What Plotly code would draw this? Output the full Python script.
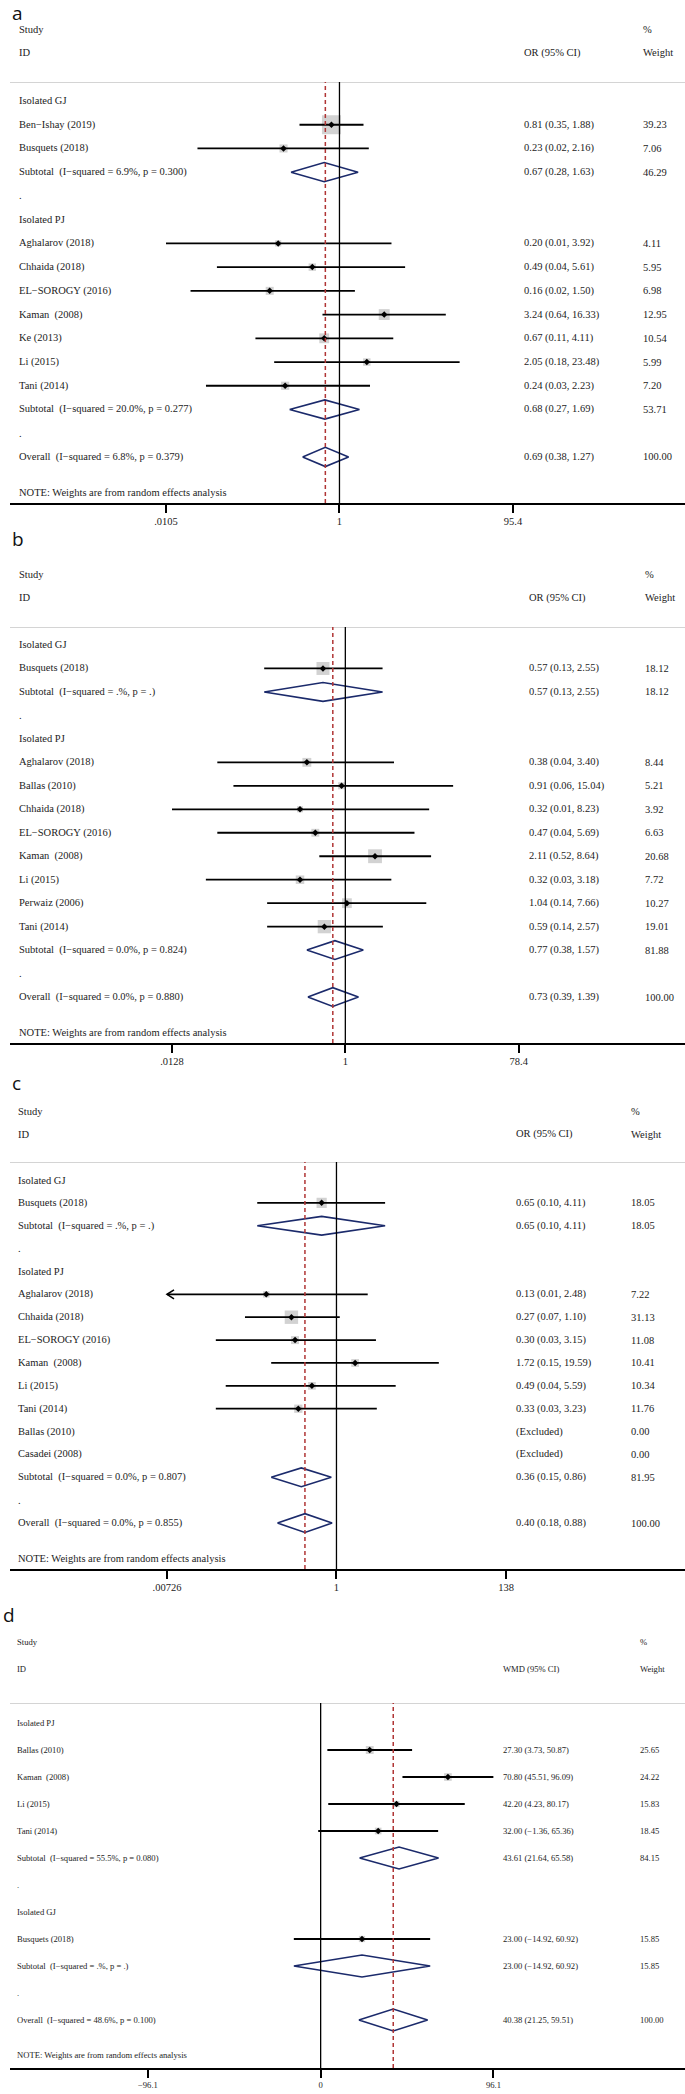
import numpy as np
import plotly.graph_objects as go

W, H = 685, 2094

# ---- panel a : OR ----
A_LABELS = ["Isolated GJ", "Ben−Ishay (2019)", "Busquets (2018)",
            "Subtotal  (I−squared = 6.9%, p = 0.300)", ".", "Isolated PJ",
            "Aghalarov (2018)", "Chhaida (2018)", "EL−SOROGY (2016)", "Kaman  (2008)",
            "Ke (2013)", "Li (2015)", "Tani (2014)",
            "Subtotal  (I−squared = 20.0%, p = 0.277)", ".",
            "Overall  (I−squared = 6.8%, p = 0.379)"]
A_EST = [None, 0.81, 0.23, 0.67, None, None, 0.20, 0.49, 0.16, 3.24, 0.67, 2.05, 0.24, 0.68, None, 0.69]
A_LO = [None, 0.35, 0.024, 0.28, None, None, 0.0105, 0.04, 0.02, 0.64, 0.11, 0.18, 0.03, 0.27, None, 0.38]
A_HI = [None, 1.88, 2.16, 1.63, None, None, 3.92, 5.61, 1.50, 16.33, 4.11, 23.48, 2.23, 1.69, None, 1.27]
A_WT = [None, 39.23, 7.06, 46.29, None, None, 4.11, 5.95, 6.98, 12.95, 10.54, 5.99, 7.20, 53.71, None, 100.00]
A_TICKS = [0.0105, 1, 95.4]
A_TICKTEXT = [".0105", "1", "95.4"]

# ---- panel b : OR ----
B_LABELS = ["Isolated GJ", "Busquets (2018)", "Subtotal  (I−squared = .%, p = .)", ".",
            "Isolated PJ", "Aghalarov (2018)", "Ballas (2010)", "Chhaida (2018)",
            "EL−SOROGY (2016)", "Kaman  (2008)", "Li (2015)", "Perwaiz (2006)", "Tani (2014)",
            "Subtotal  (I−squared = 0.0%, p = 0.824)", ".",
            "Overall  (I−squared = 0.0%, p = 0.880)"]
B_EST = [None, 0.57, 0.57, None, None, 0.38, 0.91, 0.32, 0.47, 2.11, 0.32, 1.04, 0.59, 0.77, None, 0.73]
B_LO = [None, 0.13, 0.13, None, None, 0.04, 0.06, 0.0128, 0.04, 0.52, 0.03, 0.14, 0.14, 0.38, None, 0.39]
B_HI = [None, 2.55, 2.55, None, None, 3.40, 15.04, 8.23, 5.69, 8.64, 3.18, 7.66, 2.57, 1.57, None, 1.39]
B_WT = [None, 18.12, 18.12, None, None, 8.44, 5.21, 3.92, 6.63, 20.68, 7.72, 10.27, 19.01, 81.88, None, 100.00]
B_TICKS = [0.0128, 1, 78.4]
B_TICKTEXT = [".0128", "1", "78.4"]

# ---- panel c : OR ----
C_LABELS = ["Isolated GJ", "Busquets (2018)", "Subtotal  (I−squared = .%, p = .)", ".",
            "Isolated PJ", "Aghalarov (2018)", "Chhaida (2018)", "EL−SOROGY (2016)",
            "Kaman  (2008)", "Li (2015)", "Tani (2014)", "Ballas (2010)", "Casadei (2008)",
            "Subtotal  (I−squared = 0.0%, p = 0.807)", ".",
            "Overall  (I−squared = 0.0%, p = 0.855)"]
C_EST = [None, 0.65, 0.65, None, None, 0.13, 0.27, 0.30, 1.72, 0.49, 0.33, None, None, 0.36, None, 0.40]
C_LO = [None, 0.10, 0.10, None, None, 0.006, 0.07, 0.03, 0.15, 0.04, 0.03, None, None, 0.15, None, 0.18]
C_HI = [None, 4.11, 4.11, None, None, 2.48, 1.10, 3.15, 19.59, 5.59, 3.23, None, None, 0.86, None, 0.88]
C_WT = [None, 18.05, 18.05, None, None, 7.22, 31.13, 11.08, 10.41, 10.34, 11.76, 0.00, 0.00, 81.95, None, 100.00]
C_TICKS = [0.00726, 1, 138]
C_TICKTEXT = [".00726", "1", "138"]

# ---- panel d : WMD ----
D_LABELS = ["Isolated PJ", "Ballas (2010)", "Kaman  (2008)", "Li (2015)", "Tani (2014)",
            "Subtotal  (I−squared = 55.5%, p = 0.080)", ".", "Isolated GJ", "Busquets (2018)",
            "Subtotal  (I−squared = .%, p = .)", ".",
            "Overall  (I−squared = 48.6%, p = 0.100)"]
D_EST = [None, 27.30, 70.80, 42.20, 32.00, 43.61, None, None, 23.00, 23.00, None, 40.38]
D_LO = [None, 3.73, 45.51, 4.23, -1.36, 21.64, None, None, -14.92, -14.92, None, 21.25]
D_HI = [None, 50.87, 96.09, 80.17, 65.36, 65.58, None, None, 60.92, 60.92, None, 59.51]
D_WT = [None, 25.65, 24.22, 15.83, 18.45, 84.15, None, None, 15.85, 15.85, None, 100.00]
D_TICKS = [-96.1, 0, 96.1]
D_TICKTEXT = ["−96.1", "0", "96.1"]

DATA = [
    (A_LABELS, A_EST, A_LO, A_HI, A_WT, A_TICKS, A_TICKTEXT),
    (B_LABELS, B_EST, B_LO, B_HI, B_WT, B_TICKS, B_TICKTEXT),
    (C_LABELS, C_EST, C_LO, C_HI, C_WT, C_TICKS, C_TICKTEXT),
    (D_LABELS, D_EST, D_LO, D_HI, D_WT, D_TICKS, D_TICKTEXT),
]

# layout of each panel, in page pixels
PANELS = [
    dict(letter="a", lab_x=10, lab_y=13, study_y=30, id_y=53, head_y=82, row0=101, sp=23.73,
         note_y=492, axis_y=503, x_txt=17, x_est=522, x_wt=641, ticks_px=(166, 513), log=True,
         fs=10.5, k=3.03, dh=9.6, est_head="OR (95% CI)"),
    dict(letter="b", lab_x=10, lab_y=539, study_y=575, id_y=598, head_y=627, row0=645, sp=23.47,
         note_y=1032, axis_y=1043, x_txt=17, x_est=527, x_wt=643, ticks_px=(172, 518.8), log=True,
         fs=10.5, k=3.05, dh=9.4, est_head="OR (95% CI)"),
    dict(letter="c", lab_x=10, lab_y=1083, study_y=1111, id_y=1134, head_y=1162, row0=1180, sp=22.87,
         note_y=1558, axis_y=1569, x_txt=16, x_est=514, x_wt=629, ticks_px=(167, 506), log=True,
         fs=10.5, k=2.4, dh=9.4, est_head="OR (95% CI)"),
    dict(letter="d", lab_x=1, lab_y=1615, study_y=1642, id_y=1669, head_y=1703, row0=1723, sp=27.0,
         note_y=2055, axis_y=2068, x_txt=15, x_est=501, x_wt=638, ticks_px=(147.9, 493.4), log=False,
         fs=8.6, k=1.55, dh=11, est_head="WMD (95% CI)"),
]

X0_PX = 10
TXT = "#1c1c1c"
SERIF = "Liberation Serif, Times New Roman, serif"
NAVY = "#1b2a6b"
RED = "#b03535"


def fmt(v):
    return f"{v:.2f}".replace("-", "−")


fig = go.Figure()
annotations = []
shapes = []
layout_axes = {}

for i, (p, (labels, est, lo, hi, wt, ticks, ticktext)) in enumerate(zip(PANELS, DATA)):
    n = i + 1
    xa = "x" if n == 1 else f"x{n}"
    ya = "y" if n == 1 else f"y{n}"
    row = lambda px, p=p: (px - p["row0"]) / p["sp"]

    # x axis range so that the outer ticks fall on their pixel positions
    f = np.log10 if p["log"] else (lambda v: v)
    lt, rt = f(ticks[0]), f(ticks[-1])
    pl, pr = p["ticks_px"]
    scale = (pr - pl) / (rt - lt)
    xr = [lt + (X0_PX - pl) / scale, lt + (W - pl) / scale]

    layout_axes["xaxis" if n == 1 else f"xaxis{n}"] = dict(
        domain=[X0_PX / W, 1], range=xr, type="log" if p["log"] else "linear",
        anchor=ya, showgrid=False, zeroline=False, showline=True, linecolor="black",
        linewidth=1.5, ticks="outside", ticklen=8, tickwidth=1.5, tickcolor="black",
        tickvals=ticks, ticktext=ticktext,
        tickfont=dict(family=SERIF, size=p["fs"], color=TXT), fixedrange=True)
    layout_axes["yaxis" if n == 1 else f"yaxis{n}"] = dict(
        domain=[1 - p["axis_y"] / H, 1 - p["head_y"] / H],
        range=[row(p["axis_y"]), row(p["head_y"])], anchor=xa,
        showgrid=False, zeroline=False, showline=False, showticklabels=False, fixedrange=True)

    rows = list(range(len(labels)))
    is_pool = [lab.startswith("Subtotal") or lab.startswith("Overall") for lab in labels]
    study = [r for r in rows if est[r] is not None and not is_pool[r]]

    # weight boxes
    fig.add_trace(go.Scatter(
        x=[est[r] for r in study], y=study, mode="markers", xaxis=xa, yaxis=ya,
        marker=dict(symbol="square", color="#bfbfbf", line_width=0,
                    size=[p["k"] * np.sqrt(wt[r]) for r in study]),
        hoverinfo="skip", showlegend=False))

    # confidence intervals (clipped to the axis, arrow when beyond)
    cx, cy = [], []
    ax_, ay_ = [], []
    for r in study:
        a_, b_ = max(lo[r], ticks[0]), min(hi[r], ticks[-1])
        cx += [a_, b_, None]
        cy += [r, r, None]
        if lo[r] < ticks[0]:
            tip = f(ticks[0])
            wing = tip + 7 / scale
            wx = 10 ** wing if p["log"] else wing
            ax_ += [wx, ticks[0], wx, None]
            ay_ += [r - 4.5 / p["sp"], r, r + 4.5 / p["sp"], None]
    fig.add_trace(go.Scatter(x=cx, y=cy, mode="lines", xaxis=xa, yaxis=ya,
                             line=dict(color="black", width=1.8),
                             hoverinfo="skip", showlegend=False))
    if ax_:
        fig.add_trace(go.Scatter(x=ax_, y=ay_, mode="lines", xaxis=xa, yaxis=ya,
                                 line=dict(color="black", width=1.6),
                                 hoverinfo="skip", showlegend=False))

    # point estimates
    fig.add_trace(go.Scatter(
        x=[est[r] for r in study], y=study, mode="markers", xaxis=xa, yaxis=ya,
        marker=dict(symbol="diamond", color="black", size=5),
        hoverinfo="skip", showlegend=False))

    # pooled diamonds
    h = p["dh"] / p["sp"]
    for r in rows:
        if is_pool[r] and est[r] is not None:
            fig.add_trace(go.Scatter(
                x=[lo[r], est[r], hi[r], est[r], lo[r]],
                y=[r, r - h, r, r + h, r],
                mode="lines", fill="toself", fillcolor="white", xaxis=xa, yaxis=ya,
                line=dict(color=NAVY, width=1.6),
                hoverinfo="skip", showlegend=False))

    # header rule, null line and overall line
    shapes.append(dict(type="line", xref="paper", x0=X0_PX / W, x1=1, yref=ya,
                       y0=row(p["head_y"]), y1=row(p["head_y"]),
                       line=dict(color="#c6c6c6", width=1.6)))
    shapes.append(dict(type="line", xref=xa, x0=ticks[1], x1=ticks[1],
                       yref=f"{ya} domain", y0=0, y1=1, line=dict(color="black", width=1.3)))
    shapes.append(dict(type="line", xref=xa, x0=est[-1], x1=est[-1],
                       yref=f"{ya} domain", y0=0, y1=1,
                       line=dict(color=RED, width=1.5, dash="4px,3px")))

    font = dict(family=SERIF, size=p["fs"], color=TXT)

    def note(txt, xpx, yrow):
        annotations.append(dict(text=txt, xref="paper", x=xpx / W, xanchor="left",
                                yref=ya, y=yrow, yanchor="middle", showarrow=False, font=font))

    def head(txt, xpx, ypx):
        # header text sits above the plotting area, so it is placed on the page
        annotations.append(dict(text=txt, xref="paper", x=xpx / W, xanchor="left",
                                yref="paper", y=1 - ypx / H, yanchor="middle",
                                showarrow=False, font=font))

    head("Study", p["x_txt"], p["study_y"])
    head("ID", p["x_txt"], p["id_y"])
    head("%", p["x_wt"], p["study_y"])
    head(p["est_head"], p["x_est"], p["id_y"])
    head("Weight", p["x_wt"], p["id_y"])
    note("NOTE: Weights are from random effects analysis", p["x_txt"], row(p["note_y"]))

    for r in rows:
        note(labels[r].replace("  ", "\u00a0 "), p["x_txt"], r)
        if est[r] is not None:
            note(f"{fmt(est[r])} ({fmt(lo[r])}, {fmt(hi[r])})", p["x_est"], r)
            note(f"{wt[r]:.2f}", p["x_wt"], r)
        elif wt[r] is not None:
            note("(Excluded)", p["x_est"], r)
            note(f"{wt[r]:.2f}", p["x_wt"], r)

    annotations.append(dict(text=p["letter"], xref="paper", x=p["lab_x"] / W, xanchor="left",
                            yref="paper", y=1 - p["lab_y"] / H, yanchor="middle",
                            showarrow=False,
                            font=dict(family="Open Sans, Noto Sans, sans-serif", size=19,
                                      color="#111111")))

fig.update_layout(
    width=W, height=H, margin=dict(l=0, r=0, t=0, b=0),
    paper_bgcolor="white", plot_bgcolor="white",
    annotations=annotations, shapes=shapes, showlegend=False,
    **layout_axes)

fig.write_html("out.html", config={"displayModeBar": False},
               post_script="document.body.style.margin = '0px';")
